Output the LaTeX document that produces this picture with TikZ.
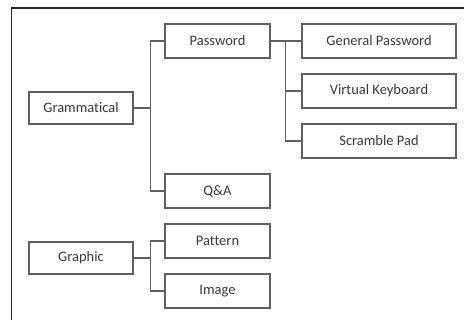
\documentclass[tikz,border=0pt]{standalone}
\usepackage{fontspec}
\setmainfont[Ligatures={NoCommon}]{Carlito}
\definecolor{boxline}{HTML}{606060}
\definecolor{txt}{HTML}{3A3A3A}
\begin{document}
\begin{tikzpicture}[x=1bp,y=-1bp,
  box/.style={draw=boxline,line width=1.3bp,inner sep=0pt,minimum height=34bp,
    text=txt,font=\fontsize{14.5bp}{16bp}\selectfont},
  lvla/.style={box,minimum width=104bp,minimum height=32bp},
  lvlb/.style={box,minimum width=105bp},
  lvlc/.style={box,minimum width=154bp},
  conn/.style={draw=boxline,line width=1.3bp}]
\useasboundingbox (0,0) rectangle (468,320);
\draw[line width=1.6bp,black!85] (11.5,320) -- (11.5,8) -- (464,8);
\node[lvla] (gram) at (81,108) {Grammatical};
\node[lvla] (graph) at (81,258) {Graphic};
\node[lvlb] (pass) at (217.5,41) {Password};
\node[lvlb] (qa) at (217.5,191) {Q\&A};
\node[lvlb] (patt) at (217.5,241) {Pattern};
\node[lvlb] (img) at (217.5,291) {Image};
\node[lvlc] (gen) at (379,41) {General Password};
\node[lvlc] (virt) at (379,91) {Virtual Keyboard};
\node[lvlc] (scr) at (379,141) {Scramble Pad};
\draw[conn] (pass.west) -- ++(-14,0) |- (qa.west);
\draw[conn] (gram.east) -- ([xshift=-14bp]pass.west |- gram.east);
\draw[conn] (pass.east) -- (gen.west);
\draw[conn] (gen.west) -- ++(-16,0) |- (scr.west);
\draw[conn] (virt.west) -- ++(-16,0);
\draw[conn] (patt.west) -- ++(-14,0) |- (img.west);
\draw[conn] (graph.east) -- ([xshift=-14bp]patt.west |- graph.east);
\end{tikzpicture}
\end{document}
